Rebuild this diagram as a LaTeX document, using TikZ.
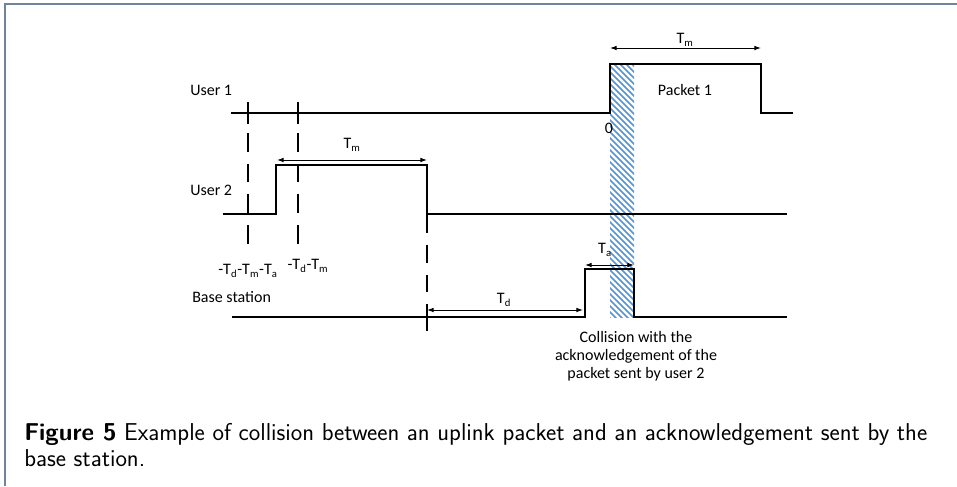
\documentclass[tikz,border=0pt]{standalone}
\usepackage{fontspec}
\newfontfamily\calib{Carlito}
\usepackage{tikz}
\usetikzlibrary{arrows.meta}
\definecolor{framebl}{RGB}{112,132,160}
\definecolor{hatchbl}{RGB}{84,148,212}

\begin{document}
\begin{tikzpicture}[
  x=0.75pt,y=-0.75pt,
  sig/.style={line width=1.3pt,line join=miter},
  dim/.style={{Latex[length=5pt,width=3.5pt]}-{Latex[length=5pt,width=3.5pt]},line width=0.7pt},
  tck/.style={line width=0.9pt},
  vdash/.style={line width=0.9pt,dash pattern=on 14pt off 9pt},
  lbl/.style={font=\calib\fontsize{12}{13.5}\selectfont,inner sep=0pt},
  captxt/.style={font=\sffamily\fontsize{18.3}{20}\selectfont,inner sep=0pt,anchor=base west}
]
\useasboundingbox (0,0) rectangle (957,486);
\draw[framebl,line width=1.4pt] (5,486) -- (5,4) -- (957,4);

% time marks
\coordinate (tA) at (248,0);
\coordinate (tB) at (298,0);
\coordinate (tC) at (427,0);
\coordinate (tD) at (585,0);
\coordinate (t0) at (610,0);
\coordinate (tE) at (634,0);
\coordinate (tF) at (761,0);

% collision zone
\begin{scope}
  \clip (t0|-0,64) rectangle (tE|-0,317);
  \foreach \k in {20,26,...,330}
    \draw[hatchbl,line width=1.2pt] (600,\k) -- (645,\k+45);
\end{scope}

% signals
\draw[sig] (231,113) -- (t0|-0,113) -- (t0|-0,64) -- (tF|-0,64) -- (tF|-0,113) -- (793,113);
\draw[sig] (223,214) -- (276,214) -- (276,165) -- (tC|-0,165) -- (tC|-0,214) -- (787,214);
\draw[sig] (232,317) -- (tD|-0,317) -- (tD|-0,269) -- (tE|-0,269) -- (tE|-0,317) -- (787,317);

% ticks and guides
\draw[tck] (tA|-0,102) -- (tA|-0,124);
\draw[tck] (tB|-0,102) -- (tB|-0,124);
\draw[vdash] (tA|-0,133) -- (tA|-0,252);
\draw[vdash] (tB|-0,133) -- (tB|-0,252);
\draw[vdash] (tC|-0,214) -- (tC|-0,292);
\draw[tck] (tC|-0,304) -- (tC|-0,331);

% labels
\node[lbl,anchor=west] (u1) at (190,90) {User 1};
\node[lbl,anchor=west] (u2) at (190,190) {User 2};
\node[lbl,anchor=west] (bs) at (192,297) {Base station};
\node[lbl] (pk1) at (685,90) {Packet 1};
\node[lbl] (zero) at (609,128) {0};
\node[lbl] (tm1) at (685,40) {T\textsubscript{m}};
\node[lbl] (tm2) at (352,145) {T\textsubscript{m}};
\node[lbl] (td) at (504,300) {T\textsubscript{d}};
\node[lbl] (ta) at (605,250) {T\textsubscript{a}};
\node[lbl] (lA) at (248,271) {-T\textsubscript{d}-T\textsubscript{m}-T\textsubscript{a}};
\node[lbl] (lB) at (308,266) {-T\textsubscript{d}-T\textsubscript{m}};
\node[lbl,align=center] (coll) at (636,356) {Collision with the\\acknowledgement of the\\packet sent by user 2};

% durations
\draw[dim] (t0|-0,48) -- (tF|-0,48);
\draw[dim] (277,160) -- (tC|-0,160);
\draw[dim] (tC|-0,310) -- (583,310);
\draw[dim] (tD|-0,265) -- (tE|-0,265);

% caption
\node[captxt] (cap1) at (24,440) {\textbf{Figure 5} Example of collision between an uplink packet and an acknowledgement sent by the};
\node[captxt] (cap2) at (24,466) {base station.};
\end{tikzpicture}
\end{document}
